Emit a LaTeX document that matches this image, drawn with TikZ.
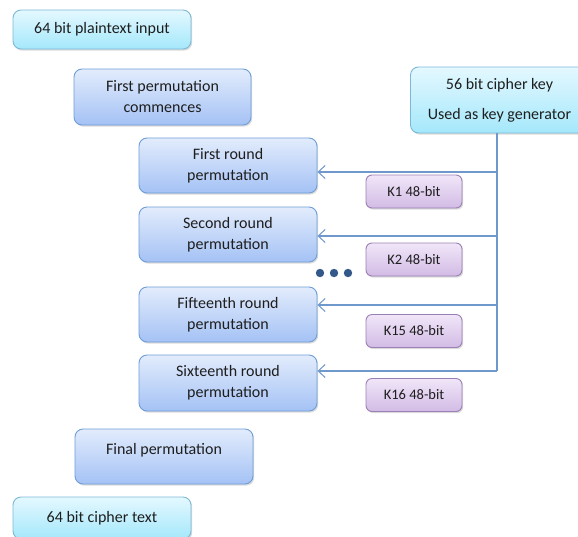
\documentclass[tikz,border=0pt]{standalone}
\usepackage{fontspec}
\setmainfont{Carlito}
\usetikzlibrary{arrows.meta,shadows}
\definecolor{txt}{HTML}{1E1E1E}
\definecolor{lineblue}{HTML}{6F98CC}
\definecolor{dotblue}{HTML}{34588A}
\definecolor{cyanedge}{HTML}{7DB9D6}
\definecolor{cyantop}{HTML}{E4F8FF}
\definecolor{cyanbot}{HTML}{A4E8FB}
\definecolor{blueedge}{HTML}{6E9ED8}
\definecolor{bluetop}{HTML}{E2ECFC}
\definecolor{bluebot}{HTML}{A4C2F5}
\definecolor{purpedge}{HTML}{9A80B4}
\definecolor{purptop}{HTML}{F0E6F8}
\definecolor{purpbot}{HTML}{D2BBE5}
\tikzset{
  base/.style={rounded corners=8pt, line width=0.9pt, align=center, text=txt,
    font=\fontsize{16}{21}\selectfont, inner sep=2pt,
    drop shadow={shadow xshift=1.2pt, shadow yshift=-1.6pt, opacity=0.28}},
  cyanbox/.style={base, draw=cyanedge, top color=cyantop, bottom color=cyanbot},
  bluebox/.style={base, draw=blueedge, top color=bluetop, bottom color=bluebot},
  purplebox/.style={base, draw=purpedge, top color=purptop, bottom color=purpbot,
    rounded corners=6pt, font=\fontsize{14.5}{18}\selectfont},
  keyline/.style={draw=lineblue, line width=1.1pt},
  keyarrow/.style={keyline, -{Straight Barb[length=7pt,width=13pt,line width=1pt]}},
}
\begin{document}
\begin{tikzpicture}[x=1pt,y=-1pt]
\useasboundingbox (0,0) rectangle (578,536);
\clip (0,0) rectangle (578,536);
\fill[white] (0,0) rectangle (578,536);

\node[cyanbox, minimum width=178pt, minimum height=39pt] (plain) at (102,29.5) {64 bit plaintext input};
\node[bluebox, minimum width=177pt, minimum height=56pt] (fp) at (162.5,97) {First permutation\\commences};
\node[cyanbox, minimum width=178pt, minimum height=66pt] (key) at (499.5,100) {56 bit cipher key\\[9pt]Used as key generator};

\node[bluebox, minimum width=178pt, minimum height=55pt] (r1) at (228,165.5) {First round\\permutation};
\node[bluebox, minimum width=178pt, minimum height=55pt] (r2) at (228,234.5) {Second round\\permutation};
\node[bluebox, minimum width=178pt, minimum height=55pt] (r15) at (228,314.5) {Fifteenth round\\permutation};
\node[bluebox, minimum width=178pt, minimum height=56pt] (r16) at (228,383) {Sixteenth round\\permutation};

\node[purplebox, minimum width=96pt, minimum height=33pt] (k1) at (414,191.5) {K1 48-bit};
\node[purplebox, minimum width=96pt, minimum height=33pt] (k2) at (414,259.5) {K2 48-bit};
\node[purplebox, minimum width=96pt, minimum height=33pt] (k15) at (414,331) {K15 48-bit};
\node[purplebox, minimum width=96pt, minimum height=33pt] (k16) at (414,395) {K16 48-bit};

\node[bluebox, minimum width=178pt, minimum height=55pt] (final) at (164,456.5) {Final permutation\\[-6pt]\mbox{}};
\node[cyanbox, minimum width=178pt, minimum height=42pt] (ct) at (102,518) {64 bit cipher text};

% key distribution lines
\coordinate (v1) at (497,172);
\coordinate (v2) at (497,236);
\coordinate (v15) at (497,305);
\coordinate (v16) at (497,371);
\draw[keyline] (key.south -| v16) -- (v16);
\draw[keyarrow] (v1) -- (v1 -| r1.east);
\draw[keyarrow] (v2) -- (v2 -| r2.east);
\draw[keyarrow] (v15) -- (v15 -| r15.east);
\draw[keyarrow] (v16) -- (v16 -| r16.east);

% ellipsis dots
\foreach \x in {320,334,348} \fill[dotblue] (\x,273) circle (4.2pt);
\end{tikzpicture}
\end{document}
